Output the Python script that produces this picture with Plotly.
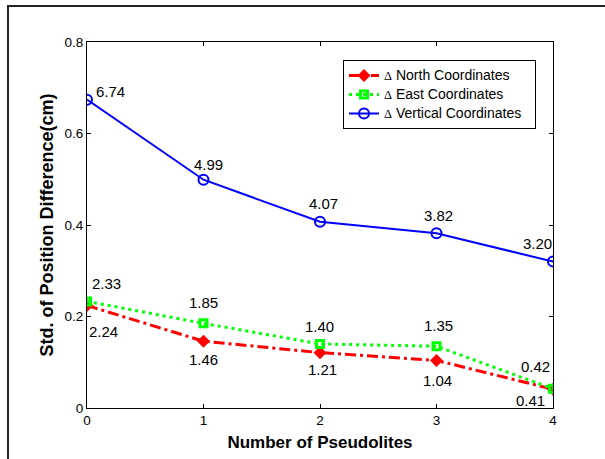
import plotly.graph_objects as go

pseudolites = [0, 1, 2, 3, 4]
north = [0.224, 0.146, 0.121, 0.104, 0.041]
east = [0.233, 0.185, 0.140, 0.135, 0.042]
vertical = [0.674, 0.499, 0.407, 0.382, 0.320]
north_labels = ["2.24", "1.46", "1.21", "1.04", "0.41"]
east_labels = ["2.33", "1.85", "1.40", "1.35", "0.42"]
vertical_labels = ["6.74", "4.99", "4.07", "3.82", "3.20"]
series_names = ["North Coordinates", "East Coordinates", "Vertical Coordinates"]
x_ticks = [0, 1, 2, 3, 4]
y_ticks = [0, 0.2, 0.4, 0.6, 0.8]
y_tick_text = ["0", "0.2", "0.4", "0.6", "0.8"]

FONT = "Liberation Sans, Arial, sans-serif"


def legend_name(s):
    return ('<span style="font-family:Liberation Serif, Times New Roman, serif;font-size:12.5px">Δ</span>'
            '<span style="font-size:14px"> ' + s + '&nbsp;&nbsp;</span>')


fig = go.Figure()
fig.add_trace(go.Scatter(
    x=pseudolites, y=north, mode="lines+markers", name=legend_name(series_names[0]),
    line=dict(color="#FF0000", width=3, dash="11px,4px,3px,4px"),
    marker=dict(symbol="diamond", size=10, color="#FF0000"),
))
fig.add_trace(go.Scatter(
    x=pseudolites, y=east, mode="lines+markers", name=legend_name(series_names[1]),
    line=dict(color="#00FF00", width=3, dash="3px,4px"),
    marker=dict(symbol="square-open", size=7, color="#00FF00", line=dict(width=3, color="#00FF00")),
))
fig.add_trace(go.Scatter(
    x=pseudolites, y=vertical, mode="lines+markers", name=legend_name(series_names[2]),
    line=dict(color="#0000FF", width=2),
    marker=dict(symbol="circle-open", size=10, color="#0000FF", line=dict(width=2, color="#0000FF")),
))

# label offsets (dx, dy in px; dy positive = up)
v_off = [(23, 8), (5, 15), (3, 18), (2, 18), (-16, 18)]
e_off = [(19, 18), (0, 21), (-1, 17), (2, 21), (-18, 22)]
n_off = [(16, -26), (0, -18), (2, -17), (1, -20), (-23, -11)]

annotations = []
for vals, labs, offs in [(vertical, vertical_labels, v_off), (east, east_labels, e_off), (north, north_labels, n_off)]:
    for xv, yv, t, (dx, dy) in zip(pseudolites, vals, labs, offs):
        annotations.append(dict(
            x=xv, y=yv, text=t, showarrow=False, xanchor="center", yanchor="middle",
            xshift=dx, yshift=dy, font=dict(family=FONT, size=15, color="#000000"),
        ))

L, R, T, B = 87, 52, 42, 51
W, H = 605, 459
pw, ph = W - L - R, H - T - B
fx = lambda px: (px - L) / pw
fy = lambda py: (H - B - py) / ph

shapes = [
    dict(type="line", xref="paper", yref="paper", x0=fx(8), x1=fx(8), y0=fy(5), y1=fy(470),
         line=dict(color="#222222", width=2)),
    dict(type="line", xref="paper", yref="paper", x0=fx(7), x1=fx(620), y0=fy(6), y1=fy(6),
         line=dict(color="#222222", width=2)),
]

fig.update_layout(
    width=W, height=H,
    margin=dict(l=L, r=R, t=T, b=B),
    paper_bgcolor="white", plot_bgcolor="white",
    font=dict(family=FONT, size=13, color="#000000"),
    showlegend=True,
    legend=dict(
        x=fx(343), y=fy(60), xanchor="left", yanchor="top",
        bgcolor="white", bordercolor="black", borderwidth=1,
        font=dict(family=FONT, size=10.5, color="#000000"),
        tracegroupgap=0, itemwidth=30,
    ),
    annotations=annotations,
    shapes=shapes,
    xaxis=dict(
        range=[0, 4], tickvals=x_ticks, ticktext=[str(v) for v in x_ticks],
        ticks="inside", ticklen=4, tickcolor="black", tickwidth=1,
        showline=True, linecolor="black", linewidth=1, mirror="ticks",
        showgrid=False, zeroline=False,
        tickfont=dict(family=FONT, size=13.5),
        title=dict(text="<b>Number of Pseudolites</b>", font=dict(family=FONT, size=17), standoff=8),
    ),
    yaxis=dict(
        range=[0, 0.8], tickvals=y_ticks, ticktext=y_tick_text,
        ticks="inside", ticklen=4, tickcolor="black", tickwidth=1,
        showline=True, linecolor="black", linewidth=1, mirror="ticks",
        showgrid=False, zeroline=False,
        tickfont=dict(family=FONT, size=13.5),
        title=dict(text="<b>Std. of Position Difference(cm)</b>", font=dict(family=FONT, size=18), standoff=6),
    ),
)

fig.write_html("out.html")
